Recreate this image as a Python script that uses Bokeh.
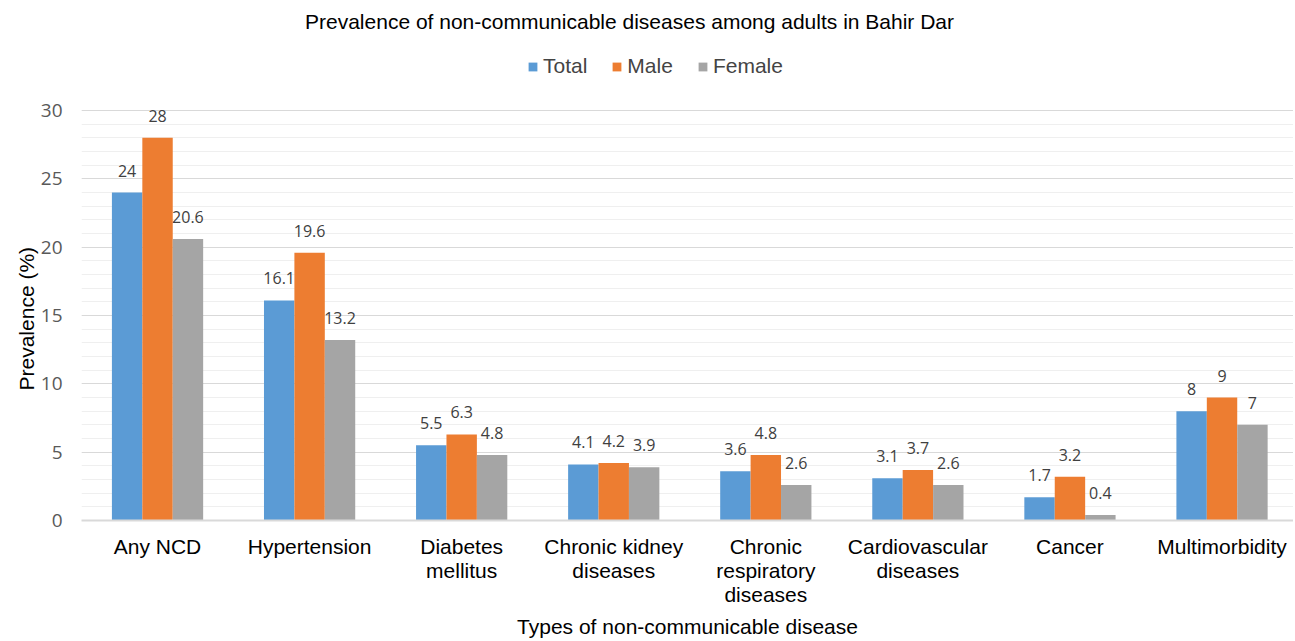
from bokeh.plotting import figure
from bokeh.models import (ColumnDataSource, Range1d, FixedTicker, Legend, LegendItem,
                          Label, LabelSet, Title)
from bokeh.embed import file_html
from bokeh.resources import INLINE
from bokeh.core.properties import value

categories = ["Any NCD", "Hypertension", "Diabetes\nmellitus", "Chronic kidney\ndiseases",
              "Chronic\nrespiratory\ndiseases", "Cardiovascular\ndiseases", "Cancer", "Multimorbidity"]
total = [24, 16.1, 5.5, 4.1, 3.6, 3.1, 1.7, 8]
male = [28, 19.6, 6.3, 4.2, 4.8, 3.7, 3.2, 9]
female = [20.6, 13.2, 4.8, 3.9, 2.6, 2.6, 0.4, 7]
series_names = ["Total", "Male", "Female"]
colors = ["#5B9BD5", "#ED7D31", "#A5A5A5"]
y_ticks = [0, 5, 10, 15, 20, 25, 30]

FRAME_H = 520          # frame covers the title/legend area too
TOP_GAP = 110          # pixels between frame top and the 30 line
y_end = 30 * FRAME_H / (FRAME_H - TOP_GAP)
FONT = "Liberation Sans"

p = figure(width=1293, frame_height=FRAME_H, output_backend="svg", toolbar_location=None,
           x_range=Range1d(-0.5, 7.47), y_range=Range1d(0, y_end),
           min_border_left=81, min_border_right=0, min_border_top=0, min_border_bottom=0)
p.outline_line_color = None
p.background_fill_color = "white"
p.title.visible = False

xs = list(range(len(categories)))
renderers = []
offsets = [-0.2, 0.0, 0.2]
for name, vals, col, off in zip(series_names, [total, male, female], colors, offsets):
    src = ColumnDataSource(dict(x=[i + off for i in xs], top=vals,
                                lab=[("%g" % v) for v in vals]))
    r = p.vbar(x="x", top="top", width=0.2, bottom=0, source=src, fill_color=col, line_color=None)
    renderers.append(r)
    ls = LabelSet(x="x", y="top", text="lab", source=src, text_align="center",
                  text_baseline="bottom", y_offset=16, text_font=value("Open Sans"),
                  text_font_size="16px", text_color="#404040")
    p.add_layout(ls)

# x axis
p.xaxis.ticker = FixedTicker(ticks=xs)
p.xaxis.major_label_overrides = {i: c for i, c in enumerate(categories)}
p.xaxis.major_label_text_font = FONT
p.xaxis.major_label_text_font_size = "21px"
p.xaxis.major_label_text_line_height = 1.05
p.xaxis.major_label_text_color = "black"
p.xaxis.major_tick_out = 0
p.xaxis.major_tick_in = 0
p.xaxis.major_label_standoff = 14
p.xaxis.major_tick_line_color = None
p.xaxis.minor_tick_line_color = None
p.xaxis.axis_line_color = "#D9D9D9"
p.xaxis.axis_line_width = 2
p.xaxis.axis_label = "Types of non-communicable disease"
p.xaxis.axis_label_text_font = FONT
p.xaxis.axis_label_text_font_size = "21px"
p.xaxis.axis_label_text_font_style = "normal"
p.xaxis.axis_label_text_color = "black"
p.xaxis.axis_label_standoff = 6

# y axis
p.yaxis.ticker = FixedTicker(ticks=y_ticks, minor_ticks=list(range(0, 31)))
p.yaxis.major_label_text_font = "Open Sans"
p.yaxis.major_label_text_font_size = "19px"
p.yaxis.major_label_text_color = "#595959"
p.yaxis.major_tick_out = 0
p.yaxis.major_tick_in = 0
p.yaxis.major_label_standoff = 15
p.yaxis.major_tick_line_color = None
p.yaxis.minor_tick_line_color = None
p.yaxis.axis_line_color = None
p.yaxis.axis_label = None

# y axis title centred on the 0-30 span
p.add_layout(Title(text="Prevalence (%)", align="left", offset=FRAME_H - TOP_GAP - 280,
                   text_font=FONT, text_font_size="21px", text_font_style="normal",
                   text_color="black", standoff=0), "left")

p.xgrid.grid_line_color = None
p.ygrid.grid_line_color = "#D9D9D9"
p.ygrid.grid_line_width = 1
p.ygrid.minor_grid_line_color = "#EFEFEF"
p.ygrid.minor_grid_line_width = 1
p.ygrid.level = "underlay"

# chart title (inside the frame, above the 30 line)
p.add_layout(Label(x=548, y=FRAME_H - 21, x_units="screen", y_units="screen",
                   text="Prevalence of non-communicable diseases among adults in Bahir Dar",
                   text_align="center", text_baseline="middle",
                   text_font=FONT, text_font_size="21px", text_color="black"))

legend = Legend(items=[LegendItem(label=n, renderers=[r]) for n, r in zip(series_names, renderers)],
                orientation="horizontal", location=(446, FRAME_H - 78), border_line_color=None,
                background_fill_alpha=0, label_text_font=FONT,
                label_text_font_size="21px", glyph_width=11, glyph_height=11,
                label_standoff=5, spacing=24, padding=0, margin=0)
p.add_layout(legend, "center")

open("out.html", "w").write(file_html(p, INLINE))
